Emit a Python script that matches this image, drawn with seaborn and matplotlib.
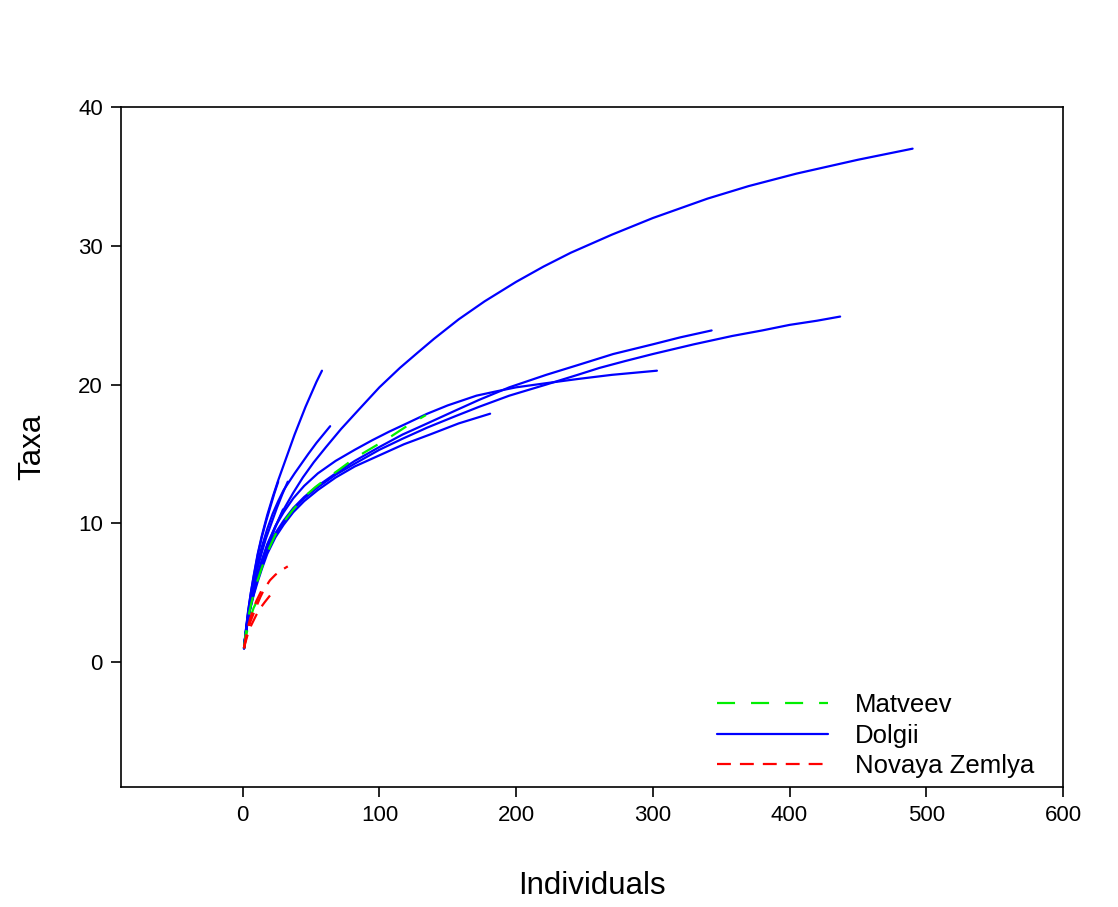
import numpy as np
import pandas as pd
import matplotlib
matplotlib.use("Agg")
import matplotlib.pyplot as plt
from matplotlib.lines import Line2D
import seaborn as sns

# ---- data: rarefaction curves (individuals, taxa) ----
# Dolgii
dolgii_a_n = [1, 2, 4, 6, 8, 11, 14, 18, 24, 30, 37, 44, 52, 61, 72, 85, 100, 115, 128, 140,
              158, 177, 200, 220, 240, 270, 300, 340, 370, 405, 450, 490]
dolgii_a_s = [1, 1.9, 3.3, 4.3, 5.2, 6.3, 7.3, 8.5, 9.8, 11.0, 12.2, 13.3, 14.4, 15.5, 16.8, 18.2,
              19.8, 21.2, 22.3, 23.3, 24.7, 26.0, 27.4, 28.5, 29.5, 30.8, 32.0, 33.4, 34.3, 35.2, 36.2, 37.0]
dolgii_b_n = [1, 2, 4, 6, 8, 11, 14, 18, 22, 26, 30, 34, 38, 42, 46, 50, 54, 58]
dolgii_b_s = [1, 2.0, 3.6, 5.0, 6.2, 7.8, 9.1, 10.6, 11.9, 13.1, 14.2, 15.3, 16.4, 17.4, 18.4, 19.3, 20.2, 21.0]
dolgii_c_n = [1, 2, 4, 6, 8, 11, 14, 18, 22, 26, 30, 34, 38, 43, 48, 54, 59, 64]
dolgii_c_s = [1, 1.9, 3.5, 4.8, 5.8, 7.2, 8.3, 9.6, 10.7, 11.6, 12.4, 13.0, 13.6, 14.3, 15.0, 15.8, 16.4, 17.0]
dolgii_d_n = [1, 2, 4, 6, 8, 11, 14, 17, 20, 23, 26]
dolgii_d_s = [1, 2.0, 3.7, 5.0, 6.1, 7.7, 9.0, 10.1, 11.1, 12.1, 13.0]
dolgii_e_n = [1, 2, 4, 6, 8, 11, 14, 17, 21, 25, 29, 33]
dolgii_e_s = [1, 1.9, 3.4, 4.5, 5.4, 6.8, 7.9, 8.9, 10.0, 11.1, 12.1, 13.0]
dolgii_f_n = [1, 2, 4, 6, 8, 11, 14, 17, 20, 23, 26, 29.5]
dolgii_f_s = [1, 1.8, 3.2, 4.1, 5.0, 6.1, 7.0, 7.9, 8.7, 9.5, 10.2, 11.0]
dolgii_g_n = [1, 2, 4, 6, 8, 11, 14, 18, 24, 30, 37, 45, 55, 68, 82, 95, 107, 120, 135, 150,
              171, 185, 200, 222, 245, 270, 303]
dolgii_g_s = [1, 1.9, 3.3, 4.3, 5.1, 6.3, 7.3, 8.4, 9.8, 10.8, 11.8, 12.7, 13.6, 14.5, 15.3, 16.0,
              16.6, 17.2, 17.9, 18.5, 19.2, 19.5, 19.8, 20.1, 20.4, 20.7, 21.0]
dolgii_h_n = [1, 2, 4, 6, 8, 11, 14, 18, 24, 30, 37, 45, 55, 68, 82, 100, 117, 135, 155, 173,
              195, 222, 245, 271, 300, 320, 343]
dolgii_h_s = [1, 1.9, 3.2, 4.2, 5.0, 6.1, 7.0, 8.1, 9.3, 10.2, 11.1, 11.9, 12.7, 13.6, 14.5, 15.5,
              16.4, 17.2, 18.1, 18.9, 19.8, 20.7, 21.4, 22.2, 22.9, 23.4, 23.9]
dolgii_i_n = [1, 2, 4, 6, 8, 11, 14, 18, 24, 30, 37, 45, 55, 68, 82, 100, 117, 135, 155, 173,
              195, 222, 245, 261, 280, 300, 330, 358, 380, 400, 420, 437]
dolgii_i_s = [1, 1.9, 3.2, 4.1, 4.9, 6.0, 6.9, 8.0, 9.2, 10.1, 11.0, 11.8, 12.6, 13.5, 14.3, 15.3,
              16.1, 16.9, 17.7, 18.4, 19.2, 20.0, 20.7, 21.2, 21.7, 22.2, 22.9, 23.5, 23.9, 24.3, 24.6, 24.9]
dolgii_j_n = [1, 2, 4, 6, 8, 11, 14, 18, 24, 30, 37, 45, 55, 68, 82, 100, 118, 137, 158, 181]
dolgii_j_s = [1, 1.8, 3.1, 4.0, 4.8, 5.8, 6.7, 7.8, 9.0, 9.9, 10.8, 11.6, 12.4, 13.3, 14.1, 14.9,
              15.7, 16.4, 17.2, 17.9]
# Matveev
matveev_a_n = [1, 2, 4, 6, 8, 11, 14, 18, 24, 30, 37, 45, 53, 61, 71, 82, 94, 106, 120, 134]
matveev_a_s = [1, 1.9, 3.2, 4.1, 4.9, 5.9, 6.8, 7.9, 9.2, 10.1, 11.0, 11.9, 12.6, 13.2, 13.9, 14.7,
               15.4, 16.1, 17.0, 17.8]
matveev_b_n = [1, 2, 4, 6, 8, 10, 12, 14, 16]
matveev_b_s = [1, 1.6, 2.6, 3.3, 3.9, 4.3, 4.7, 5.1, 5.4]
# Novaya Zemlya
novaya_a_n = [1, 2, 4, 6, 8, 10, 13, 16, 20, 24, 28, 33]
novaya_a_s = [1, 1.5, 2.4, 3.0, 3.5, 4.0, 4.7, 5.3, 5.9, 6.3, 6.6, 6.9]
novaya_b_n = [1, 2, 4, 6, 8, 10, 13, 16, 20]
novaya_b_s = [1, 1.4, 2.1, 2.6, 3.0, 3.4, 3.9, 4.3, 4.8]
novaya_c_n = [1, 2, 4, 6, 8, 10, 12, 14]
novaya_c_s = [1, 1.6, 2.6, 3.3, 3.9, 4.4, 4.8, 5.2]

sites = ["Matveev", "Dolgii", "Novaya Zemlya"]
site_colors = {"Matveev": "#00ee00", "Dolgii": "#0000ff", "Novaya Zemlya": "#ff0000"}

curves = [
    ("Dolgii", dolgii_a_n, dolgii_a_s), ("Dolgii", dolgii_b_n, dolgii_b_s),
    ("Dolgii", dolgii_c_n, dolgii_c_s), ("Dolgii", dolgii_d_n, dolgii_d_s),
    ("Dolgii", dolgii_e_n, dolgii_e_s), ("Dolgii", dolgii_f_n, dolgii_f_s),
    ("Dolgii", dolgii_g_n, dolgii_g_s), ("Dolgii", dolgii_h_n, dolgii_h_s),
    ("Dolgii", dolgii_i_n, dolgii_i_s), ("Dolgii", dolgii_j_n, dolgii_j_s),
    ("Matveev", matveev_a_n, matveev_a_s), ("Matveev", matveev_b_n, matveev_b_s),
    ("Novaya Zemlya", novaya_a_n, novaya_a_s), ("Novaya Zemlya", novaya_b_n, novaya_b_s),
    ("Novaya Zemlya", novaya_c_n, novaya_c_s),
]

rows = []
for k, (site, ns, ss) in enumerate(curves):
    for n, s in zip(ns, ss):
        rows.append({"Individuals": n, "Taxa": s, "site": site, "curve": k})
df = pd.DataFrame(rows)

# ---- styling ----
sns.set_theme(style="white")
plt.rcParams["font.family"] = ["Liberation Sans", "DejaVu Sans"]
plt.rcParams["lines.scale_dashes"] = False
plt.rcParams["lines.solid_joinstyle"] = "round"

fig = plt.figure(figsize=(11.18, 9.07), dpi=100)
ax = fig.add_axes([0.1082, 0.1323, 0.8426, 0.7497])

dash_map = {"Matveev": (13, 11.5), "Dolgii": "", "Novaya Zemlya": (10, 6.5)}
sns.lineplot(data=df, x="Individuals", y="Taxa", hue="site", style="site",
             units="curve", estimator=None, sort=False,
             palette=site_colors, dashes=dash_map, linewidth=1.6,
             legend=False, ax=ax)

ax.set_xlim(-89, 600)
ax.set_ylim(-9, 40)
ax.set_xticks([0, 100, 200, 300, 400, 500, 600])
ax.set_yticks([0, 10, 20, 30, 40])
ax.tick_params(axis="both", which="both", direction="out", length=7, width=1.2,
               color="black", labelsize=16, labelcolor="black",
               bottom=True, left=True, top=False, right=False, pad=6)
for sp in ax.spines.values():
    sp.set_visible(True)
    sp.set_color("black")
    sp.set_linewidth(1.2)
ax.set_xlabel("Individuals", fontsize=22.5, color="black", labelpad=32)
ax.set_ylabel("Taxa", fontsize=22.5, color="black", labelpad=22)

handles = [Line2D([], [], color=site_colors[s], linewidth=1.6,
                  linestyle=(0, dash_map[s]) if dash_map[s] else "-") for s in sites]
leg = ax.legend(handles, sites, loc="upper left", bbox_to_anchor=(0.633, 0.138),
                frameon=False, fontsize=18.5, handlelength=4.3, handletextpad=1.05,
                labelspacing=0.25, borderpad=0, borderaxespad=0)
for t in leg.get_texts():
    t.set_color("black")

fig.savefig("out.png", dpi=100, facecolor="white")
